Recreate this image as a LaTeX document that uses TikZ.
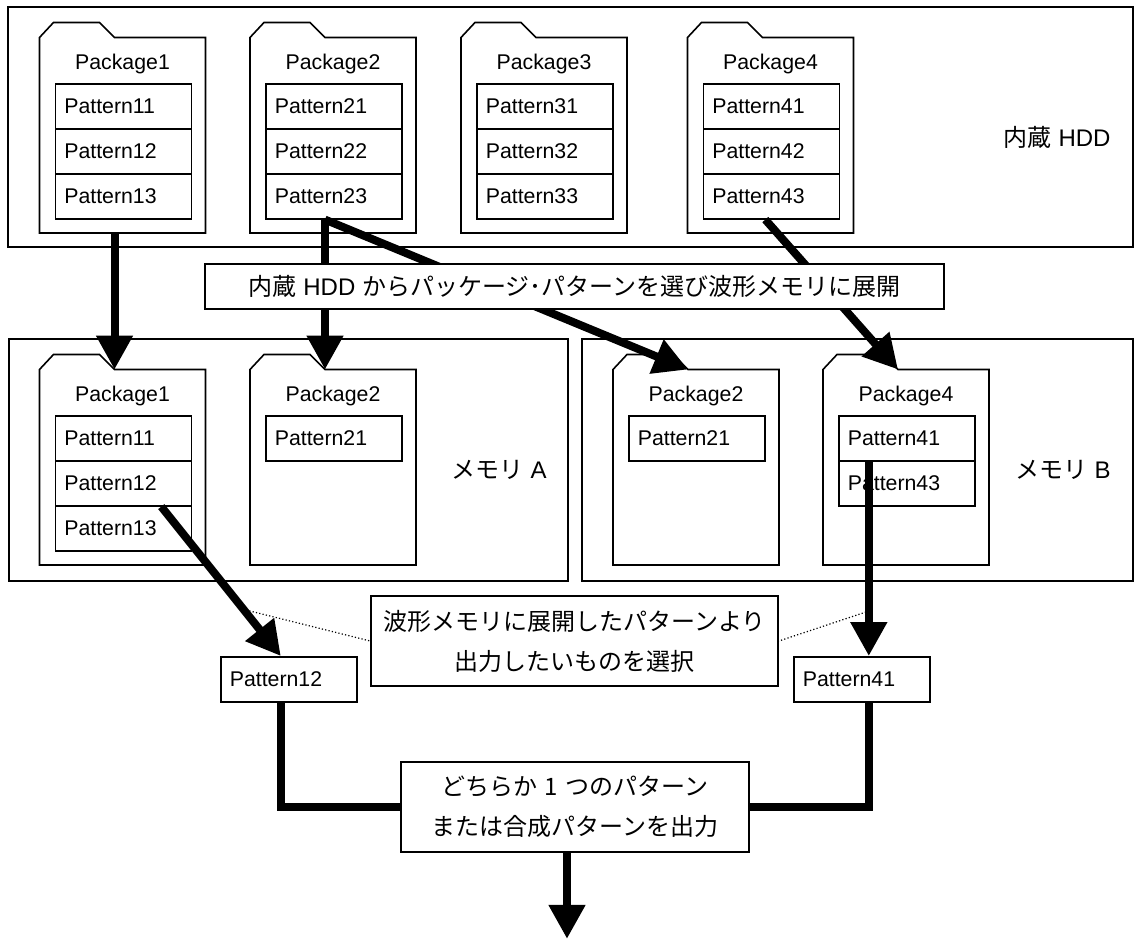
\documentclass[tikz,border=0pt]{standalone}
\usepackage{fontspec}
\setmainfont{Liberation Sans}
\newfontfamily\jp{Noto Sans CJK JP}
\usetikzlibrary{arrows.meta}

\newcommand\pkgfolder[4]{%
  \draw[thinline, fill=white] (#2,#3+195.5) -- (#2,#3) -- (#2+14,#3-15) -- (#2+60,#3-15)
    -- (#2+75,#3) -- (#2+166,#3) -- (#2+166,#3+195.5) -- cycle;
  \node[pkgname] (#1) at (#2+83,#3+26) {#4};
  \coordinate (#1-top) at (#2+75,#3);
  \coordinate (#1-bot) at (#2+75,#3+195.5);
}
\newcommand\jsp{\hspace{7pt}}

\begin{document}
\begin{tikzpicture}[x=1pt, y=-1pt,
    thinline/.style={draw=black, line width=1.6pt},
    pkgname/.style={inner sep=0pt, font=\fontsize{21.3}{25}\selectfont},
    pat/.style={draw, line width=1.6pt, minimum width=136pt, minimum height=45pt,
      text width=118pt, inner xsep=9pt, inner ysep=0pt, align=left,
      font=\fontsize{21.3}{25}\selectfont},
    arealbl/.style={inner sep=0pt, font=\fontsize{24}{40}\selectfont},
    callout/.style={draw, line width=1.6pt, fill=white, inner sep=0pt, align=center,
      font=\jp\fontsize{24}{40}\selectfont},
    bigline/.style={line width=8pt},
    bigarrow/.style={line width=8pt, -{Triangle[width=35pt,length=34pt]}},
    dotline/.style={line width=1.2pt, dash pattern=on 1.2pt off 2.2pt}]
  \useasboundingbox (0,0) rectangle (1140,938);

  \draw[thinline] (8,7) rectangle (1133,247);
  \draw[thinline] (9,339) rectangle (568,581);
  \draw[thinline] (582,339) rectangle (1133,581);

  \pkgfolder{hf1}{39.5}{37.5}{Package1}
  \pkgfolder{hf2}{250}{37.5}{Package2}
  \pkgfolder{hf3}{461}{37.5}{Package3}
  \pkgfolder{hf4}{687.5}{37.5}{Package4}
  \foreach \p/\x in {1/54.5, 2/265, 3/476, 4/702.5}
    \foreach \r/\y in {1/83, 2/128, 3/173}
      \node[pat, anchor=north west] (h\p\r) at (\x,\y) {Pattern\p\r};

  \pkgfolder{af1}{39.5}{369.5}{Package1}
  \pkgfolder{af2}{250}{369.5}{Package2}
  \pkgfolder{bf2}{613}{369.5}{Package2}
  \pkgfolder{bf4}{823}{369.5}{Package4}
  \node[pat, anchor=north west] (a11) at (54.5,415) {Pattern11};
  \node[pat, anchor=north west] (a12) at (54.5,460) {Pattern12};
  \node[pat, anchor=north west] (a13) at (54.5,505) {Pattern13};
  \node[pat, anchor=north west] (a21) at (265,415) {Pattern21};
  \node[pat, anchor=north west] (b21) at (628,415) {Pattern21};
  \node[pat, anchor=north west] (b41) at (838,415) {Pattern41};
  \node[pat, anchor=north west] (b43) at (838,460) {Pattern43};

  \node[arealbl] (hdd) at (1057,137) {{\jp 内蔵}\jsp HDD};
  \node[arealbl] (mema) at (499,470) {{\jp メモリ}\jsp A};
  \node[arealbl] (memb) at (1063,470) {{\jp メモリ}\jsp B};

  \node[pat, anchor=north west] (p12) at (220,656) {Pattern12};
  \node[pat, anchor=north west] (p41) at (793,656) {Pattern41};
  \node[callout, minimum width=407pt, minimum height=90pt] (sel) at (574.5,641)
    {波形メモリに展開したパターンより\\出力したいものを選択};
  \node[callout, minimum width=348pt, minimum height=90pt] (out) at (575,807)
    {どちらか\jsp 1\jsp つのパターン\\または合成パターンを出力};

  \coordinate (p12top) at ([xshift=-8pt]p12.north);
  \coordinate (p41top) at ([xshift=7pt]p41.north);
  \coordinate (selA) at (246,610);
  \coordinate (selB) at (866,612);
  \coordinate (outend) at ([xshift=-8pt,yshift=-86pt]out.south);

  \draw[dotline] (selA) -- (sel.west);
  \draw[dotline] (selB) -- (sel.east);

  \draw[bigarrow] (hf1-bot) -- (af1-top);
  \draw[bigarrow] (h23.south -| af2-top) -- (af2-top);
  \draw[bigarrow] (h23.south -| af2-top) -- (bf2-top);
  \draw[bigarrow] ([xshift=-6pt]h43.south) -- (bf4-top);
  \draw[bigarrow] ([xshift=38pt]a12.south) -- (p12top);
  \draw[bigarrow] (b41.south -| p41top) -- (p41top);

  \draw[bigline] ([xshift=-8pt]p12.south) |- (out.west);
  \draw[bigline] ([xshift=7pt]p41.south) |- (out.east);
  \draw[bigarrow] ([xshift=-8pt]out.south) -- (outend);

  \node[callout, minimum width=739pt, minimum height=45pt] (copy) at (574.5,286.5)
    {内蔵\jsp{\rmfamily HDD}\jsp からパッケージ･パターンを選び波形メモリに展開};
\end{tikzpicture}
\end{document}
